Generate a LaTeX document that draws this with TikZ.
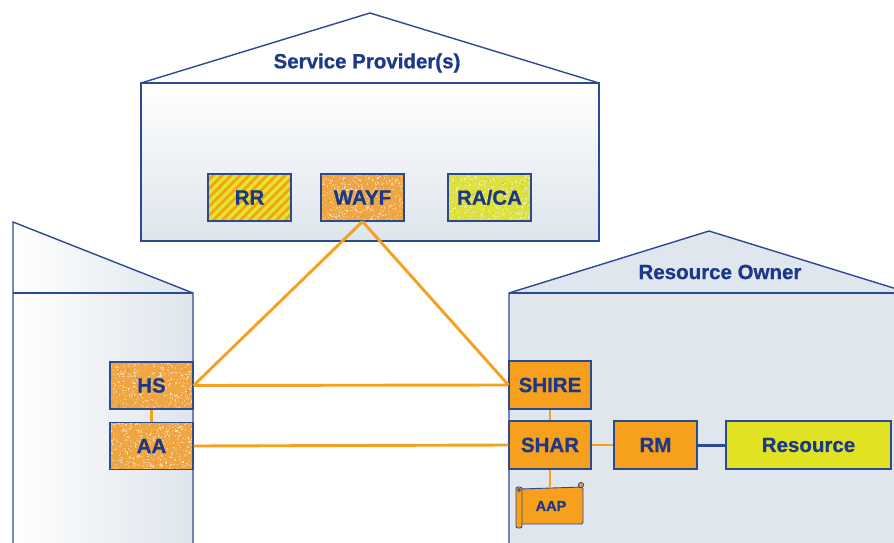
\documentclass[tikz,border=0pt]{standalone}
\usepackage{fontspec}
\setmainfont{Liberation Sans}[BoldFeatures={FakeBold=0.7}]
\usetikzlibrary{calc}

\definecolor{inkblue}{RGB}{28,56,136}
\definecolor{edgeblue}{RGB}{44,74,146}
\definecolor{paleblue}{RGB}{221,229,236}
\definecolor{ownerblue}{RGB}{223,230,237}
\definecolor{orangeA}{RGB}{247,160,30}
\definecolor{orangeS}{RGB}{240,166,66}
\definecolor{yellowS}{RGB}{222,224,60}
\definecolor{yellowR}{RGB}{224,226,34}
\definecolor{stripeY}{RGB}{226,230,40}

\tikzset{
  house/.style={draw=edgeblue, line width=1.4pt, line join=miter},
  comp/.style={draw=edgeblue, line width=1.1pt, minimum width=83pt, minimum height=47pt,
               inner sep=0pt, text=inkblue, font=\bfseries\fontsize{20.5}{22}\selectfont},
  solidorange/.style={comp, fill=orangeA},
  speckle/.style={path picture={
      \pgfmathsetseed{#1}
      \foreach \i in {1,...,420}
        \fill[white, opacity=0.45]
          ($(path picture bounding box.center)+({rand*44pt},{rand*26pt})$) rectangle +(1.3pt,1.3pt);
      \foreach \i in {1,...,160}
        \fill[black, opacity=0.06]
          ($(path picture bounding box.center)+({rand*44pt},{rand*26pt})$) rectangle +(1.3pt,1.3pt);
  }},
  speckorange/.style={comp, fill=orangeS, speckle=#1},
  speckyellow/.style={comp, fill=yellowS, speckle=#1},
  striped/.style={comp, fill=orangeA, path picture={
      \foreach \k in {-90,-81,...,90}
        \draw[stripeY, line width=3.3pt]
          ($(path picture bounding box.center)+(\k pt-40pt,-40pt)$) -- +(80pt,80pt);
  }},
  link/.style={draw=orangeA, line width=2.9pt},
  bluelink/.style={draw=edgeblue, line width=3pt},
  housetitle/.style={text=inkblue, font=\bfseries\fontsize{20.5}{22}\selectfont},
}

\begin{document}
\begin{tikzpicture}[x=1pt, y=-1pt]
\useasboundingbox (0,0) rectangle (894,543);

% Service provider building
\fill[white] (141,83) -- (370,13) -- (599,83) -- cycle;
\shade[top color=white, bottom color=paleblue] (141,83) rectangle (599,241);
\draw[house] (141,83) -- (370,13) -- (599,83);
\draw[house] (141,83) rectangle (599,241);
\node[housetitle] (sptitle) at (367,63) {Service Provider(s)};

% Home organisation building (left, cut off by the page edge)
\shade[left color=white, right color=paleblue] (13,222) -- (193,293) -- (193,543) -- (13,543) -- cycle;
\draw[house] (13,543) -- (13,222) -- (193,293) -- (193,543);
\draw[house] (13,293) -- (193,293);

% Resource owner building (right, cut off by the page edge)
\fill[ownerblue] (509,293) -- (709,231) -- (900,290) -- (900,543) -- (509,543) -- cycle;
\draw[house] (509,543) -- (509,293) -- (709,231) -- (900,290);
\draw[house] (509,293) -- (900,293);
\node[housetitle] (rotitle) at (720,272) {Resource Owner};

% Components
\node[striped] (rr) at (249.5,197.5) {RR};
\node[speckorange=11] (wayf) at (362.5,197.5) {WAYF};
\node[speckyellow=23] (raca) at (489.5,197.5) {RA/CA};
\node[speckorange=37] (hs) at (151.5,385.5) {HS};
\node[speckorange=53] (aa) at (151.5,446) {AA};
\node[solidorange, minimum width=82pt, minimum height=48pt] (shire) at (550,385) {SHIRE};
\node[solidorange, minimum width=82pt, minimum height=48pt] (shar) at (550,445) {SHAR};
\node[solidorange, minimum height=48pt] (rm) at (655.5,445) {RM};
\node[comp, fill=yellowR, minimum width=165pt, minimum height=48pt] (res) at (808.5,445) {Resource};

% AAP policy scroll
\coordinate (aaptop) at (550,488);
\draw[edgeblue, line width=0.9pt, fill=orangeA, rounded corners=1.5pt]
  (520,489) -- (583,487) -- (583,524) -- (520,524) -- cycle;
\draw[edgeblue, line width=0.9pt, fill=orangeA, rounded corners=2pt]
  (516,487) rectangle (522,528);
\draw[edgeblue, line width=0.9pt, fill=orangeA] (581,485) circle (2.6pt);
\draw[edgeblue, line width=0.8pt, fill=orangeA] (519,490) circle (1.5pt);
\node[text=inkblue, font=\bfseries\fontsize{14.5}{16}\selectfont] (aap) at (551,506) {AAP};

% Connectors
\draw[link] (wayf.south) -- (hs.east);
\draw[link] (wayf.south) -- (shire.west);
\draw[link] (hs.east) -- (shire.west);
\draw[link] (aa.east) -- (shar.west);
\draw[link] (hs.south) -- (aa.north);
\draw[link] (shire.south) -- (shar.north);
\draw[link] (shar.east) -- (rm.west);
\draw[link] (shar.south) -- (aaptop);
\draw[bluelink] (rm.east) -- (res.west);
\end{tikzpicture}
\end{document}
